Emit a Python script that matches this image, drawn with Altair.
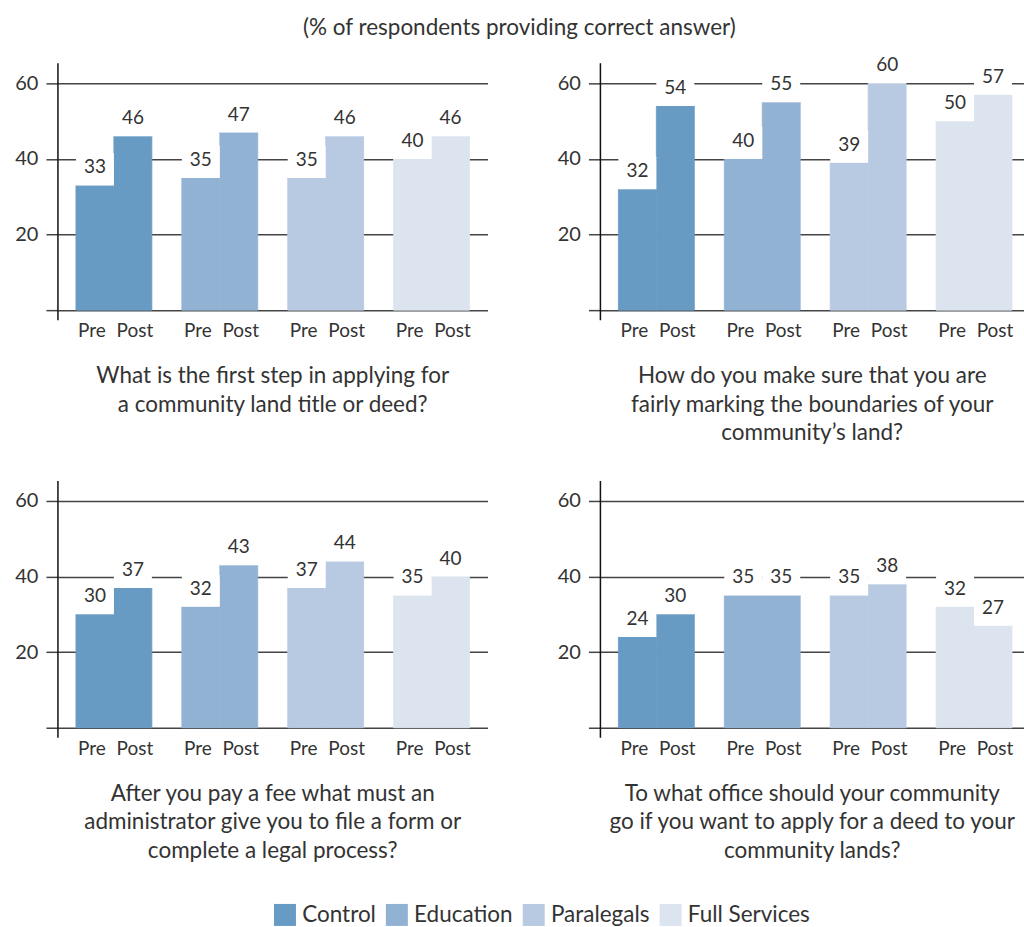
import altair as alt
import pandas as pd

groups = ["Control", "Education", "Paralegals", "Full Services"]
phases = ["Pre", "Post"]
colors = ["#689bc4", "#92b2d4", "#b7cae2", "#dce4ef"]

q1_pre = [33, 35, 35, 40]
q1_post = [46, 47, 46, 46]
q2_pre = [32, 40, 39, 50]
q2_post = [54, 55, 60, 57]
q3_pre = [30, 32, 37, 35]
q3_post = [37, 43, 44, 40]
q4_pre = [24, 35, 35, 32]
q4_post = [30, 35, 38, 27]

questions = [
    "What is the first step in applying for\na community land title or deed?",
    "How do you make sure that you are\nfairly marking the boundaries of your\ncommunity\u2019s land?",
    "After you pay a fee what must an\nadministrator give you to file a form or\ncomplete a legal process?",
    "To what office should your community\ngo if you want to apply for a deed to your\ncommunity lands?",
]
chart_title = "(% of respondents providing correct answer)"
y_ticks = [0, 20, 40, 60]

FONT = "Lato"
TXT = "#333333"
YMIN, YMAX = -40.44, 70.05
H = 418


def panel(pre, post, question, width, pad_outer, align):
    df = pd.DataFrame({
        "group": groups * 2,
        "phase": ["Pre"] * 4 + ["Post"] * 4,
        "value": pre + post,
    })
    base = alt.Chart(df)
    xenc = alt.X("group:N", sort=groups, axis=None,
                 scale=alt.Scale(paddingInner=0.283, paddingOuter=pad_outer, align=align))
    xoff = alt.XOffset("phase:N", sort=phases,
                       scale=alt.Scale(paddingInner=0, paddingOuter=0))
    yscale = alt.Scale(domain=[YMIN, YMAX], nice=False, zero=False)

    bars = base.mark_bar(strokeWidth=0.8).encode(
        x=xenc, xOffset=xoff,
        y=alt.Y("value:Q", scale=yscale, title=None,
                axis=alt.Axis(values=y_ticks, grid=True, domain=False, ticks=True,
                              tickSize=12, labelPadding=8,
                              labelExpr="datum.value == 0 ? '' : datum.label")),
        y2=alt.datum(0),
        color=alt.Color("group:N", sort=groups,
                        scale=alt.Scale(domain=groups, range=colors),
                        legend=alt.Legend(orient="none", legendX=216, legendY=859,
                                          direction="horizontal", title=None,
                                          symbolType="square", symbolSize=484,
                                          symbolStrokeWidth=0, labelFontSize=22.5,
                                          labelFont=FONT, labelColor=TXT,
                                          labelOffset=6, columnPadding=9,
                                          symbolOpacity=1)),
        stroke=alt.Stroke("group:N", sort=groups,
                          scale=alt.Scale(domain=groups, range=colors),
                          legend=None),
    )
    boxes = base.transform_calculate(top="datum.value + 8.5").mark_bar(
        color="white", strokeWidth=0).encode(
        x=xenc, xOffset=xoff, y="value:Q", y2="top:Q")
    vals = base.mark_text(baseline="middle", dy=-18, fontSize=19, font=FONT,
                          color=TXT).encode(
        x=xenc, xOffset=xoff, y="value:Q", text="value:Q")
    pre_lbl = base.transform_filter("datum.phase == 'Pre'").mark_text(
        baseline="middle", dy=21, dx=-3, fontSize=19, font=FONT, color=TXT).encode(
        x=xenc, xOffset=xoff, y=alt.datum(0), text="phase:N")
    post_lbl = base.transform_filter("datum.phase == 'Post'").mark_text(
        baseline="middle", dy=21, dx=2, fontSize=19, font=FONT, color=TXT).encode(
        x=xenc, xOffset=xoff, y=alt.datum(0), text="phase:N")
    axis_line = alt.Chart(pd.DataFrame({"a": [-2.64], "b": [65.3]})).mark_rule(
        color="#111111", strokeWidth=1.5).encode(
        x=alt.value(0), y="a:Q", y2="b:Q")
    qtext = alt.Chart(pd.DataFrame({"q": [question]})).mark_text(
        lineBreak="\n", lineHeight=28.5, fontSize=22.5, font=FONT, color=TXT,
        baseline="top", align="center", dy=55).encode(
        x=alt.value(width / 2), y=alt.datum(0), text="q:N")
    return alt.layer(bars, boxes, vals, pre_lbl, post_lbl, axis_line, qtext).properties(
        width=width, height=H)


p1 = panel(q1_pre, q1_post, questions[0], 430, 0.17, 0.5)
p2 = panel(q2_pre, q2_post, questions[1], 424, 0.1415, 0.6)
p3 = panel(q3_pre, q3_post, questions[2], 430, 0.17, 0.5)
p4 = panel(q4_pre, q4_post, questions[3], 424, 0.1415, 0.6)

chart = alt.vconcat(
    alt.hconcat(p1, p2, spacing=69),
    alt.hconcat(p3, p4, spacing=69),
    spacing=0,
).properties(
    title=alt.TitleParams(chart_title, fontSize=22.5, font=FONT, color=TXT,
                          fontWeight="normal", anchor="middle", offset=6),
    padding={"left": 14, "top": 16, "right": 0, "bottom": 0},
).configure_view(stroke=None).configure_axis(
    labelFont=FONT, labelFontSize=20, labelColor=TXT,
    tickColor="#444444", tickWidth=1.5, gridColor="#444444", gridWidth=1.5,
)

chart.save("out.html", embed_options={"renderer": "svg", "actions": False})
